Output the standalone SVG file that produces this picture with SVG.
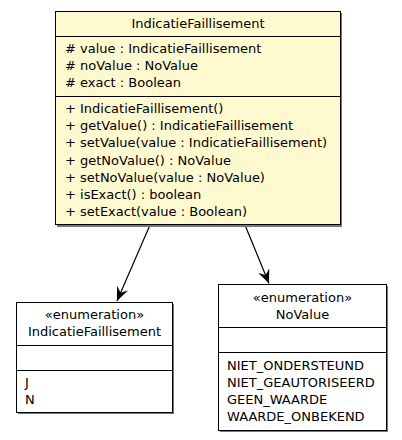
<svg xmlns="http://www.w3.org/2000/svg" width="402" height="440" viewBox="0 0 402 440">
<style>
text{font-family:"DejaVu Sans","Liberation Sans",sans-serif;font-size:13px;fill:#000}
.c{text-anchor:middle}
.box{stroke:#000;stroke-width:1}
.sh{fill:#777;stroke:none}
.sep{stroke:#000;stroke-width:1}
.edge{stroke:#000;stroke-width:1.2;fill:none}
</style>
<defs>
<marker id="vee" viewBox="0 0 14 12" refX="14" refY="6" markerWidth="14" markerHeight="12" markerUnits="userSpaceOnUse" orient="auto">
<path d="M0,0 L14,6 L0,12 L5,6 z" fill="#000"/>
</marker>
</defs>
<rect width="402" height="440" fill="#fff"/>
<g id="edges">
<line class="edge" x1="150" y1="225" x2="117" y2="301" marker-end="url(#vee)"/>
<line class="edge" x1="245" y1="225" x2="269" y2="283.5" marker-end="url(#vee)"/>
</g>
<g id="IndicatieFaillisement">
<rect class="sh" x="57" y="13" width="285" height="214"/>
<rect class="box" x="55.5" y="11.5" width="285" height="213" fill="#fff9d0"/>
<line class="sep" x1="55.5" y1="36.5" x2="340.5" y2="36.5"/>
<line class="sep" x1="55.5" y1="96.5" x2="340.5" y2="96.5"/>
<text class="c" x="198" y="27.5">IndicatieFaillisement</text>
<text x="65" y="52.5"># value : IndicatieFaillisement</text>
<text x="65" y="69.7"># noValue : NoValue</text>
<text x="65" y="86.9"># exact : Boolean</text>
<text x="65" y="113">+ IndicatieFaillisement()</text>
<text x="65" y="130.2">+ getValue() : IndicatieFaillisement</text>
<text x="65" y="147.4">+ setValue(value : IndicatieFaillisement)</text>
<text x="65" y="164.6">+ getNoValue() : NoValue</text>
<text x="65" y="181.8">+ setNoValue(value : NoValue)</text>
<text x="65" y="199">+ isExact() : boolean</text>
<text x="65" y="216.2">+ setExact(value : Boolean)</text>
</g>
<g id="enumIndicatieFaillisement">
<rect class="sh" x="18" y="304" width="156" height="110"/>
<rect class="box" x="16.5" y="302.5" width="156" height="110" fill="#fff"/>
<line class="sep" x1="16.5" y1="345.5" x2="172.5" y2="345.5"/>
<line class="sep" x1="16.5" y1="370.5" x2="172.5" y2="370.5"/>
<text class="c" x="94.5" y="319">«enumeration»</text>
<text class="c" x="94.5" y="336">IndicatieFaillisement</text>
<text x="25" y="386.5">J</text>
<text x="25" y="403.5">N</text>
</g>
<g id="enumNoValue">
<rect class="sh" x="220" y="286" width="168" height="146"/>
<rect class="box" x="218.5" y="284.5" width="168" height="146" fill="#fff"/>
<line class="sep" x1="218.5" y1="327.5" x2="386.5" y2="327.5"/>
<line class="sep" x1="218.5" y1="352.5" x2="386.5" y2="352.5"/>
<text class="c" x="302.5" y="301.5">«enumeration»</text>
<text class="c" x="302.5" y="318.5">NoValue</text>
<text x="227" y="369.5">NIET_ONDERSTEUND</text>
<text x="227" y="386.5">NIET_GEAUTORISEERD</text>
<text x="227" y="403.5">GEEN_WAARDE</text>
<text x="227" y="420.5">WAARDE_ONBEKEND</text>
</g>
</svg>
